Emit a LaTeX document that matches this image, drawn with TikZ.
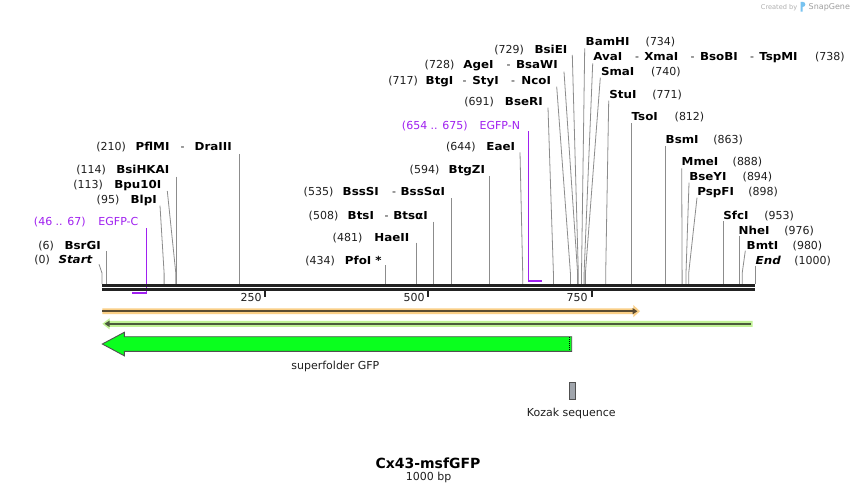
\documentclass[tikz,border=0pt]{standalone}
\usepackage{fontspec}
\setmainfont{DejaVu Sans}
\newfontfamily\enzfam{DejaVu Sans}[FakeStretch=1.08]
\usetikzlibrary{arrows.meta}
\definecolor{numcol}{RGB}{30,30,30}
\definecolor{sitegray}{RGB}{140,140,140}
\definecolor{seqcol}{RGB}{34,34,34}
\definecolor{featpurple}{RGB}{160,32,240}
\definecolor{orfill}{RGB}{250,207,135}
\definecolor{ordark}{RGB}{90,75,50}
\definecolor{grfill}{RGB}{193,242,150}
\definecolor{grdark}{RGB}{75,90,60}
\definecolor{gfpgreen}{RGB}{10,255,30}
\definecolor{outl}{RGB}{80,80,80}
\definecolor{kozfill}{RGB}{160,165,172}
\definecolor{credgray}{RGB}{175,175,175}
\definecolor{logoblue}{RGB}{120,195,240}
\newcommand\dnum{\fontsize{11}{13}\selectfont}
\newcommand\denz{\enzfam\bfseries\fontsize{11}{13}\selectfont}
\newcommand\denzit{\enzfam\bfseries\itshape\fontsize{11}{13}\selectfont}
\tikzset{
  num/.style={font=\dnum, text=numcol, inner sep=0pt, outer sep=0pt},
  pnum/.style={font=\dnum, text=featpurple, inner sep=0pt, outer sep=0pt},
  enz/.style={font=\denz, text=black, inner sep=0pt, outer sep=0pt},
  enzit/.style={font=\denzit, text=black, inner sep=0pt, outer sep=0pt},
  siteline/.style={draw=sitegray, line width=0.8pt},
  seqline/.style={draw=seqcol, line width=2.7pt},
  ticklabel/.style={draw=seqcol, line width=2pt},
  primer/.style={draw=featpurple, line width=1.3pt},
  primerbar/.style={draw=featpurple, line width=2pt},
}
\begin{document}
\begin{tikzpicture}[x=1pt,y=-1pt]
\useasboundingbox (0,0) rectangle (858,494);
\fill[white] (0,0) rectangle (858,494);

% ---------- site coordinates on the sequence line ----------
\foreach \nm/\xx in {0/102,6/106.3,95/164.1,113/175.8,114/176.5,210/239.3,434/385.7,481/416.5,508/433.5,535/451.6,594/489.6,644/522.7,691/553.4,717/570.4,728/577.6,729/578.3,734/581.5,738/584.1,740/585.4,771/605.7,812/631.8,863/665.5,888/682.1,894/686,898/688.7,953/723.5,976/739,980/742.2,1000/755.3}
  {\coordinate (s\nm) at (\xx,284);}

% ---------- label-end coordinates ----------
\coordinate (t0) at (99,264.3);
\coordinate (t6) at (106.3,251.3);
\coordinate (t95) at (160,205.7);
\coordinate (t113) at (167.3,191);
\coordinate (t114) at (176.5,176.7);
\coordinate (t210) at (239.3,154);
\coordinate (t434) at (385.7,265);
\coordinate (t481) at (416.5,242.7);
\coordinate (t508) at (433.5,221.7);
\coordinate (t535) at (451.6,198.3);
\coordinate (t594) at (489.6,176);
\coordinate (t644) at (520,152.3);
\coordinate (t691) at (548,107.7);
\coordinate (t717) at (556.7,86.7);
\coordinate (t728) at (564,71.7);
\coordinate (t729) at (572.3,55);
\coordinate (t734) at (584.7,48.3);
\coordinate (t738) at (592.7,63.3);
\coordinate (t740) at (600.3,77.7);
\coordinate (t771) at (608.7,100.7);
\coordinate (t812) at (631.8,123.3);
\coordinate (t863) at (665.5,146);
\coordinate (t888) at (681.7,168.3);
\coordinate (t894) at (689,182.7);
\coordinate (t898) at (697,197.7);
\coordinate (t953) at (723.5,221);
\coordinate (t976) at (739,236);
\coordinate (t980) at (745.3,250.7);
\coordinate (t1000) at (755.3,265.7);

% ---------- straight site lines ----------
\foreach \nm in {6,114,210,434,481,508,535,594,812,863,953,976,1000}
  {\draw[siteline] (t\nm) -- (s\nm);}
% ---------- bent site lines ----------
\foreach \nm in {0,95,113,644,691,717,728,729,734,738,740,771,888,894,898,980}
  {\draw[siteline] (t\nm) -- ([yshift=11pt]s\nm) -- (s\nm);}

% ---------- left labels ----------
\node[num, anchor=base east] (n0) at (50,263.3) {(0)};
\node[enzit, anchor=base east] (e0) at (92.3,263.3) {Start};
\node[num, anchor=base east] (n6) at (54,249) {(6)};
\node[enz, anchor=base east] (e6) at (100.7,249) {BsrGI};
\node[pnum, anchor=base east] (n46) at (85.7,225.7) {(46 .. 67)};
\node[pnum, anchor=base east] (e46) at (138.3,225.7) {EGFP-C};
\node[num, anchor=base east] (n95) at (119.3,203.7) {(95)};
\node[enz, anchor=base east] (e95) at (156.7,203.7) {BlpI};
\node[num, anchor=base east] (n113) at (103,188.3) {(113)};
\node[enz, anchor=base east] (e113) at (161.3,188.3) {Bpu10I};
\node[num, anchor=base east] (n114) at (106,173.7) {(114)};
\node[enz, anchor=base east] (e114) at (169.3,173.7) {BsiHKAI};
\node[num, anchor=base east] (n210) at (126,150.7) {(210)};
\node[enz, anchor=base west] (e210a) at (135.7,150.7) {PflMI};
\node[num, anchor=base] (e210h) at (182.5,150.7) {-};
\node[enz, anchor=base east] (e210b) at (231.7,150.7) {DraIII};

% ---------- middle labels ----------
\node[num, anchor=base east] (n434) at (335,264) {(434)};
\node[enz, anchor=base east] (e434) at (381.7,264) {PfoI *};
\node[num, anchor=base east] (n481) at (362.3,241) {(481)};
\node[enz, anchor=base east] (e481) at (409.3,241) {HaeII};
\node[num, anchor=base east] (n508) at (338.3,219) {(508)};
\node[enz, anchor=base west] (e508a) at (347.7,219) {BtsI};
\node[num, anchor=base] (e508h) at (386.5,219) {-};
\node[enz, anchor=base east] (e508b) at (427.7,219) {BtsαI};
\node[num, anchor=base east] (n535) at (333.3,195.7) {(535)};
\node[enz, anchor=base west] (e535a) at (342.7,195.7) {BssSI};
\node[num, anchor=base] (e535h) at (394,195.7) {-};
\node[enz, anchor=base east] (e535b) at (445,195.7) {BssSαI};
\node[num, anchor=base east] (n594) at (439.3,173.3) {(594)};
\node[enz, anchor=base east] (e594) at (485,173.3) {BtgZI};
\node[num, anchor=base east] (n644) at (475.7,150.7) {(644)};
\node[enz, anchor=base east] (e644) at (515,150.7) {EaeI};
\node[pnum, anchor=base east] (n654) at (467.7,129.3) {(654 .. 675)};
\node[pnum, anchor=base east] (e654) at (520,129.3) {EGFP-N};
\node[num, anchor=base east] (n691) at (494,106) {(691)};
\node[enz, anchor=base east] (e691) at (542.7,106) {BseRI};
\node[num, anchor=base east] (n717) at (418,84.3) {(717)};
\node[enz, anchor=base west] (e717a) at (425.7,84.3) {BtgI};
\node[num, anchor=base] (e717h1) at (464.5,84.3) {-};
\node[enz, anchor=base west] (e717b) at (472.3,84.3) {StyI};
\node[num, anchor=base] (e717h2) at (513,84.3) {-};
\node[enz, anchor=base east] (e717c) at (551,84.3) {NcoI};
\node[num, anchor=base east] (n728) at (454.3,68.3) {(728)};
\node[enz, anchor=base west] (e728a) at (463.3,68.3) {AgeI};
\node[num, anchor=base] (e728h) at (508.5,68.3) {-};
\node[enz, anchor=base east] (e728b) at (557.7,68.3) {BsaWI};
\node[num, anchor=base east] (n729) at (524,53.3) {(729)};
\node[enz, anchor=base east] (e729) at (567.3,53.3) {BsiEI};

% ---------- right labels ----------
\node[enz, anchor=base west] (e734) at (585.7,45.7) {BamHI};
\node[num, anchor=base west] (n734) at (645.7,45.7) {(734)};
\node[enz, anchor=base west] (e738a) at (593.3,60.7) {AvaI};
\node[num, anchor=base] (e738h1) at (637,60.7) {-};
\node[enz, anchor=base west] (e738b) at (644.3,60.7) {XmaI};
\node[num, anchor=base] (e738h2) at (692.5,60.7) {-};
\node[enz, anchor=base west] (e738c) at (700,60.7) {BsoBI};
\node[num, anchor=base] (e738h3) at (752,60.7) {-};
\node[enz, anchor=base west] (e738d) at (759.3,60.7) {TspMI};
\node[num, anchor=base west] (n738) at (815,60.7) {(738)};
\node[enz, anchor=base west] (e740) at (601,75.7) {SmaI};
\node[num, anchor=base west] (n740) at (651,75.7) {(740)};
\node[enz, anchor=base west] (e771) at (609.3,98.3) {StuI};
\node[num, anchor=base west] (n771) at (652.3,98.3) {(771)};
\node[enz, anchor=base west] (e812) at (631.7,120.7) {TsoI};
\node[num, anchor=base west] (n812) at (674.7,120.7) {(812)};
\node[enz, anchor=base west] (e863) at (665.7,143.3) {BsmI};
\node[num, anchor=base west] (n863) at (713.3,143.3) {(863)};
\node[enz, anchor=base west] (e888) at (681.7,166) {MmeI};
\node[num, anchor=base west] (n888) at (732.7,166) {(888)};
\node[enz, anchor=base west] (e894) at (689.3,181) {BseYI};
\node[num, anchor=base west] (n894) at (742.7,181) {(894)};
\node[enz, anchor=base west] (e898) at (697.3,196) {PspFI};
\node[num, anchor=base west] (n898) at (748.3,196) {(898)};
\node[enz, anchor=base west] (e953) at (723.3,219.3) {SfcI};
\node[num, anchor=base west] (n953) at (764.3,219.3) {(953)};
\node[enz, anchor=base west] (e976) at (738.7,234.3) {NheI};
\node[num, anchor=base west] (n976) at (784.3,234.3) {(976)};
\node[enz, anchor=base west] (e980) at (746.7,249.3) {BmtI};
\node[num, anchor=base west] (n980) at (792.7,249.3) {(980)};
\node[enzit, anchor=base west] (e1000) at (755.7,264) {End};
\node[num, anchor=base west] (n1000) at (794.3,264) {(1000)};

% ---------- primers ----------
\coordinate (pc1) at (146.5,228.3);
\coordinate (pc2) at (146.5,293.2);
\coordinate (pc3) at (132,293.2);
\draw[primer] (pc1) -- (pc2);
\draw[primerbar] (pc3) -- (pc2);
\coordinate (pn1) at (528.7,131.3);
\coordinate (pn2) at (528.7,280.8);
\coordinate (pn3) at (542,280.8);
\draw[primer] (pn1) -- (pn2);
\draw[primerbar] ([xshift=-0.65pt]pn2) -- (pn3);

% ---------- sequence line ----------
\coordinate (seqL) at (102,285.3);
\coordinate (seqR) at (755.3,285.3);
\draw[seqline] (seqL) -- (seqR);
\draw[seqline] ([yshift=-4pt]seqL) -- ([yshift=-4pt]seqR);

% ---------- ticks ----------
\foreach \nm/\xx in {250/265.3,500/428.3,750/591.5}{
  \coordinate (k\nm) at (\xx,290.7);
  \draw[ticklabel] (k\nm) -- ([yshift=-6.6pt]k\nm);
  \node[num, anchor=base east] (kl\nm) at (\xx-3.8,301.3) {\nm};
}

% ---------- features ----------
\fill[orfill] (102.3,308.3) -- (633.3,308.3) -- (633.3,305) -- (640,311.2) -- (633.3,317.2) -- (633.3,314) -- (102.3,314) -- cycle;
\draw[ordark, line width=2pt, -{Triangle[length=5pt,width=6pt]}] (102.3,311.2) -- (637.5,311.2);
\fill[grfill] (752.7,320.8) -- (109.5,320.8) -- (109.5,318.3) -- (102.3,323.8) -- (109.5,329.4) -- (109.5,326.8) -- (752.7,326.8) -- cycle;
\draw[grdark, line width=2.2pt, -{Triangle[length=5pt,width=6pt]}] (750.7,323.8) -- (104.5,323.8);

\draw[outl, fill=gfpgreen, line width=0.9pt] (571.7,336.7) -- (124.3,336.7) -- (124.3,332.3) -- (102.3,344) -- (124.3,355.8) -- (124.3,351.3) -- (571.7,351.3) -- cycle;
\draw[black, line width=0.8pt, dash pattern=on 1pt off 1pt] (569.3,337.2) -- (569.3,350.8);
\node[num, anchor=base] (sfgfp) at (335.3,369.3) {superfolder GFP};

\draw[outl, fill=kozfill, line width=0.9pt] (569.2,382.9) rectangle (575.6,399.2);
\node[num, anchor=base] (kozak) at (571.3,416) {Kozak sequence};

% ---------- title ----------
\node[font=\bfseries\fontsize{14}{16}\selectfont, inner sep=0pt, anchor=base] (title) at (428,468.3) {Cx43-msfGFP};
\node[num, anchor=base] (bp) at (428.7,480.7) {1000 bp};

% ---------- credit ----------
\node[font=\fontsize{6.6}{8}\selectfont, text=credgray, inner sep=0pt, anchor=base west] (cred) at (760.7,9.3) {Created by};
\fill[logoblue] (800.5,1.8) -- (802.6,1.8) .. controls (806.2,1.8) and (806.2,7) .. (802.6,7) -- (802.6,11.6) -- (800.5,11.6) -- cycle;
\node[font=\fontsize{8}{9}\selectfont, text=credgray!90!black, inner sep=0pt, anchor=base west] (snap) at (808.5,9.8) {SnapGene};
\end{tikzpicture}
\end{document}
